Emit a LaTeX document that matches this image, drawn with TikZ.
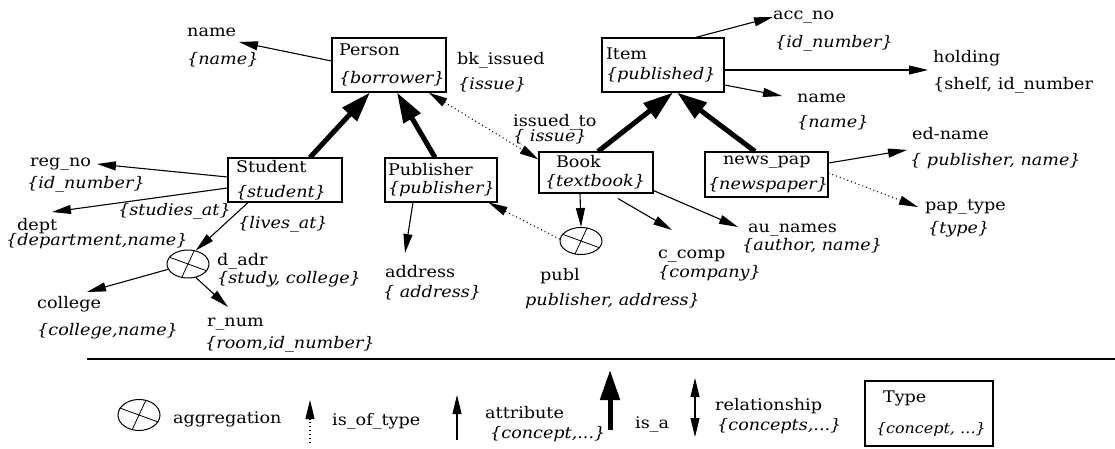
\documentclass[tikz,border=0pt]{standalone}
\usepackage{fontspec}
\setmainfont{DejaVu Serif}[FakeStretch=1.1]
\usetikzlibrary{arrows.meta,shapes.geometric}
\newcommand\ctype[1]{\textit{\{#1\}}}
\newcommand\aggcross[1]{\draw[line width=.8pt] (#1.160) -- (#1.-20); \draw[line width=.8pt] (#1.65) -- (#1.245);}
\tikzset{
  box/.style={draw, line width=1.1pt, align=left, inner ysep=0pt},
  lbl/.style={anchor=base west, inner sep=0pt},
  attr/.style={-{Triangle[length=19pt,width=9pt]}, line width=1.1pt},
  isa/.style={-{Triangle[length=30pt,width=19pt]}, line width=5pt},
  istype/.style={attr, dash pattern=on 1pt off 3pt},
  rel/.style={{Triangle[length=19pt,width=9pt]}-{Triangle[length=19pt,width=9pt]}, line width=1.1pt},
  reldot/.style={rel, dash pattern=on 1pt off 3pt},
  agg/.style={draw, ellipse, line width=1pt, inner sep=0pt, minimum width=42pt, minimum height=28pt},
  rule/.style={line width=1.5pt}
}
\begin{document}
\begin{tikzpicture}[x=1pt,y=-1pt,font=\fontsize{16}{20}\selectfont]
\useasboundingbox (0,0) rectangle (1115,449);

% ---------- type boxes ----------
\node[box, inner xsep=7pt, text width=100pt, minimum height=54pt] (person) at (389,65) {Person\\[8pt]\ctype{borrower}};
\node[box, inner xsep=4pt, text width=114pt, minimum height=54pt] (item) at (663,65) {Item\\\ctype{published}};
\node[box, inner xsep=8pt, text width=98pt, minimum height=44pt] (student) at (285,180) {Student\\[5pt]\ctype{student}};
\node[box, inner xsep=3pt, text width=106pt, minimum height=44pt] (publisher) at (441,180) {Publisher\\[-2pt]\ctype{publisher}};
\node[box, inner xsep=6pt, text width=102pt, minimum height=41pt] (book) at (596,172.5) {\hspace*{11pt}Book\\[-1pt]\ctype{textbook}};
\node[box, inner xsep=3pt, text width=117pt, minimum height=45pt] (newspap) at (766.5,174.5) {\hspace*{15pt}news\_pap\\[5pt]\ctype{newspaper}};

% ---------- aggregations ----------
\node[agg] (dadr) at (188,264) {};
\node[agg, minimum height=27pt] (publ) at (581,241) {};
\aggcross{dadr}
\aggcross{publ}

% ---------- labels ----------
\node[lbl] (nameA) at (187,37) {name};
\node[lbl] (nameAt) at (187,65) {\ctype{name}};
\node[lbl] (bk) at (457,65) {bk\_issued};
\node[lbl] (bkt) at (458,90) {\ctype{issue}};
\node[lbl] (iss) at (513,127) {issued\_to};
\node[lbl] (isst) at (513,142) {\ctype{ issue}};
\node[lbl] (acc) at (773,20) {acc\_no};
\node[lbl] (acct) at (775,48) {\ctype{id\_number}};
\node[lbl] (hold) at (933,63) {holding};
\node[lbl] (holdt) at (933,90) {\{shelf, id\_number};
\node[lbl] (nameB) at (797,103) {name};
\node[lbl] (nameBt) at (797,128) {\ctype{name}};
\node[lbl] (reg) at (30,167) {reg\_no};
\node[lbl] (regt) at (27,188) {\ctype{id\_number}};
\node[lbl] (dept) at (17,230) {dept};
\node[lbl] (deptt) at (6,245) {\ctype{department,name}};
\node[lbl] (stud) at (118,215) {\ctype{studies\_at}};
\node[lbl] (lives) at (238,228) {\ctype{lives\_at}};
\node[lbl] (dadrl) at (217,265) {d\_adr};
\node[lbl] (dadrt) at (217,283) {\ctype{study, college}};
\node[lbl] (coll) at (37,308) {college};
\node[lbl] (collt) at (37,335) {\ctype{college,name}};
\node[lbl] (rnum) at (207,326) {r\_num};
\node[lbl] (rnumt) at (205,348) {\ctype{room,id\_number}};
\node[lbl] (addr) at (385,277) {address};
\node[lbl] (addrt) at (383,297) {\ctype{ address}};
\node[lbl] (publl) at (540,280) {publ};
\node[lbl] (publt) at (525,305) {\textit{publisher, address\}}};
\node[lbl] (comp) at (658,258) {c\_comp};
\node[lbl] (compt) at (658,277) {\ctype{company}};
\node[lbl] (au) at (748,232) {au\_names};
\node[lbl] (aut) at (742,250) {\ctype{author, name}};
\node[lbl] (ed) at (912,140) {ed-name};
\node[lbl] (edt) at (910,165) {\ctype{ publisher, name}};
\node[lbl] (pap) at (925,210) {pap\_type};
\node[lbl] (papt) at (928,233) {\ctype{type}};

% ---------- arrow end points ----------
\coordinate (tName1) at (239,42);
\coordinate (tAcc) at (773,17);
\coordinate (tHold) at (928,70);
\coordinate (tName2) at (782,96);
\coordinate (tReg) at (97,164);
\coordinate (tDept) at (52,212);
\coordinate (tColl) at (87,292);
\coordinate (tRnum) at (228,307);
\coordinate (tAddr) at (405,253);
\coordinate (tComp) at (672,230);
\coordinate (tAu) at (738,227);
\coordinate (tEd) at (907,150);
\coordinate (tPap) at (918,207);

% ---------- is_a ----------
\draw[isa] ([xshift=25pt]student.north) -- ([xshift=-19pt]person.south);
\draw[isa] ([xshift=-6pt]publisher.north) -- ([xshift=8pt]person.south);
\draw[isa] ([xshift=2pt]book.north) -- ([xshift=10pt]item.south);
\draw[isa] ([xshift=-11.5pt]newspap.north) -- ([xshift=14pt]item.south);

% ---------- relationship ----------
\draw[reldot] ([xshift=-18pt]person.south east) -- ([yshift=-8pt]book.north west);

% ---------- attributes ----------
\draw[attr] ([yshift=4pt]person.west) -- (tName1);
\draw[attr] ([xshift=-29pt]item.north east) -- (tAcc);
\draw[attr] ([yshift=-5pt]item.east) -- (tHold);
\draw[attr] ([yshift=-20pt]item.east) -- (tName2);
\draw[attr] ([yshift=3pt]student.west) -- (tReg);
\draw[attr] ([yshift=-8pt]student.west) -- (tDept);
\draw[attr] ([xshift=-37pt]student.south) -- (dadr.60);
\draw[attr] (dadr.195) -- (tColl);
\draw[attr] (dadr.-60) -- (tRnum);
\draw[attr] ([xshift=-28pt]publisher.south) -- (tAddr);
\draw[istype] (publ.175) -- ([xshift=-9pt]publisher.south east);
\draw[attr] ([xshift=-16pt]book.south) -- (publ.north);
\draw[attr] ([xshift=22pt,yshift=-5pt]book.south) -- (tComp);
\draw[attr] ([yshift=3pt]book.south east) -- (tAu);
\draw[attr] ([yshift=11.5pt]newspap.east) -- (tEd);
\draw[istype] ([yshift=1.5pt]newspap.east) -- (tPap);

% ---------- rule ----------
\coordinate (ruleA) at (87,359);
\coordinate (ruleB) at (1115,359);
\draw[rule] (ruleA) -- (ruleB);

% ---------- legend ----------
\node[agg, minimum height=31pt] (aggL) at (139,415) {};
\aggcross{aggL}
\node[lbl] (lAgg) at (173,423) {aggregation};
\coordinate (lTypeB) at (310,443);
\coordinate (lTypeT) at (310,400);
\draw[istype] (lTypeB) -- (lTypeT);
\node[lbl] (lType) at (332,425) {is\_of\_type};
\coordinate (lAttB) at (457,440);
\coordinate (lAttT) at (457,395);
\draw[attr] (lAttB) -- (lAttT);
\node[lbl] (lAtt) at (485,418) {attribute};
\node[lbl] (lAttt) at (490,438) {\ctype{concept,...}};
\coordinate (lIsaB) at (610,430);
\coordinate (lIsaT) at (610,370);
\draw[isa] (lIsaB) -- (lIsaT);
\node[lbl] (lIsa) at (635,428) {is\_a};
\coordinate (lRelT) at (695,378);
\coordinate (lRelB) at (695,437);
\draw[rel] (lRelT) -- (lRelB);
\node[lbl] (lRel) at (715,410) {relationship};
\node[lbl] (lRelt) at (717,430) {\ctype{concepts,...}};
\node[box, line width=1.5pt, inner xsep=0pt, text width=128pt, minimum height=65pt] (typebox) at (929,413.5) {\hspace*{18pt}Type\\[11pt]\hspace*{11pt}\mbox{\fontsize{14.5}{20}\selectfont\ctype{concept, ...}}};
\end{tikzpicture}
\end{document}
